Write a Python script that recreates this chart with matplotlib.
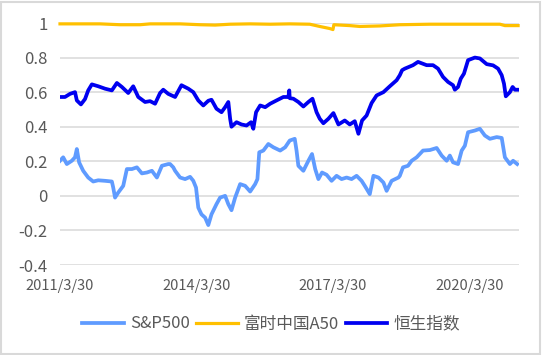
import datetime as dt
import matplotlib
matplotlib.use("Agg")
import matplotlib.pyplot as plt
from matplotlib.patches import Rectangle

plt.rcParams['font.family'] = ['Noto Sans CJK SC', 'DejaVu Sans']

# 数据（按图读取，时间为小数年份）
spx_t = [2011.24, 2011.31, 2011.39, 2011.50, 2011.57, 2011.61, 2011.66, 2011.75, 2011.86, 2011.97,
         2012.08, 2012.23, 2012.38, 2012.41, 2012.45, 2012.52, 2012.63, 2012.71, 2012.82, 2012.93,
         2013.04, 2013.15, 2013.26, 2013.37, 2013.48, 2013.62, 2013.66, 2013.73, 2013.77, 2013.88,
         2013.99, 2014.10, 2014.17, 2014.23, 2014.28, 2014.35, 2014.43, 2014.50, 2014.57, 2014.68,
         2014.76, 2014.87, 2014.94, 2015.01, 2015.09, 2015.20, 2015.31, 2015.42, 2015.53, 2015.58,
         2015.62, 2015.71, 2015.82, 2015.93, 2016.08, 2016.19, 2016.29, 2016.40, 2016.44, 2016.48,
         2016.59, 2016.70, 2016.78, 2016.85, 2016.92, 2017.00, 2017.10, 2017.21, 2017.32, 2017.43,
         2017.54, 2017.65, 2017.76, 2017.87, 2017.94, 2018.05, 2018.13, 2018.24, 2018.35, 2018.42,
         2018.53, 2018.68, 2018.71, 2018.78, 2018.89, 2018.97, 2019.08, 2019.22, 2019.37, 2019.52,
         2019.63, 2019.74, 2019.81, 2019.88, 2019.99, 2020.07, 2020.14, 2020.21, 2020.36, 2020.47,
         2020.58, 2020.69, 2020.84, 2020.95, 2021.02, 2021.13, 2021.20, 2021.29]
spx = [0.203, 0.223, 0.184, 0.203, 0.223, 0.271, 0.194, 0.145, 0.106, 0.083,
       0.090, 0.087, 0.083, 0.048, -0.010, 0.019, 0.058, 0.155, 0.155, 0.165,
       0.130, 0.135, 0.145, 0.106, 0.174, 0.184, 0.184, 0.165, 0.145, 0.106,
       0.097, 0.110, 0.087, 0.048, -0.068, -0.107, -0.126, -0.169, -0.107, -0.048,
       -0.010, 0.000, -0.048, -0.083, -0.010, 0.068, 0.058, 0.025, 0.068, 0.097,
       0.252, 0.262, 0.300, 0.281, 0.262, 0.281, 0.320, 0.330, 0.262, 0.174,
       0.145, 0.203, 0.242, 0.155, 0.097, 0.135, 0.122, 0.087, 0.116, 0.097,
       0.106, 0.097, 0.116, 0.087, 0.058, 0.010, 0.116, 0.106, 0.077, 0.029,
       0.087, 0.106, 0.116, 0.165, 0.174, 0.203, 0.223, 0.262, 0.265, 0.277,
       0.233, 0.203, 0.233, 0.194, 0.184, 0.262, 0.290, 0.368, 0.378, 0.388,
       0.349, 0.330, 0.340, 0.335, 0.223, 0.184, 0.203, 0.184]

a50_t = [2011.24, 2012.12, 2012.56, 2013.00, 2013.22, 2013.88, 2014.32, 2014.65, 2014.98, 2015.42,
         2015.86, 2016.29, 2016.73, 2016.95, 2017.17, 2017.24, 2017.26, 2017.61, 2017.83, 2018.27,
         2018.71, 2019.37, 2020.91, 2021.02, 2021.31]
a50 = [0.995, 0.995, 0.990, 0.990, 0.995, 0.995, 0.990, 0.988, 0.993, 0.995,
       0.993, 0.995, 0.993, 0.980, 0.968, 0.962, 0.990, 0.985, 0.980, 0.983,
       0.990, 0.993, 0.993, 0.985, 0.985]

hsi_t = [2011.24, 2011.35, 2011.46, 2011.57, 2011.61, 2011.70, 2011.79, 2011.86, 2011.94, 2012.08,
         2012.23, 2012.38, 2012.49, 2012.60, 2012.74, 2012.85, 2012.96, 2013.11, 2013.22, 2013.33,
         2013.44, 2013.51, 2013.62, 2013.77, 2013.91, 2014.06, 2014.17, 2014.28, 2014.39, 2014.50,
         2014.57, 2014.68, 2014.79, 2014.87, 2014.94, 2014.98, 2015.01, 2015.12, 2015.23, 2015.34,
         2015.44, 2015.49, 2015.55, 2015.64, 2015.75, 2015.86, 2016.00, 2016.15, 2016.26, 2016.28,
         2016.29, 2016.37, 2016.48, 2016.59, 2016.70, 2016.79, 2016.88, 2016.95, 2017.03, 2017.14,
         2017.25, 2017.36, 2017.50, 2017.61, 2017.72, 2017.80, 2017.88, 2017.98, 2018.09, 2018.20,
         2018.35, 2018.49, 2018.64, 2018.71, 2018.76, 2018.82, 2019.00, 2019.11, 2019.30, 2019.44,
         2019.55, 2019.66, 2019.77, 2019.88, 2019.92, 2019.99, 2020.05, 2020.12, 2020.21, 2020.36,
         2020.47, 2020.62, 2020.76, 2020.87, 2020.95, 2021.00, 2021.04, 2021.13, 2021.19, 2021.24,
         2021.29]
hsi = [0.572, 0.572, 0.590, 0.600, 0.552, 0.529, 0.560, 0.610, 0.645, 0.634,
       0.620, 0.610, 0.653, 0.630, 0.595, 0.634, 0.572, 0.543, 0.548, 0.533,
       0.595, 0.614, 0.590, 0.572, 0.640, 0.620, 0.600, 0.552, 0.523, 0.550,
       0.556, 0.504, 0.484, 0.513, 0.543, 0.446, 0.400, 0.426, 0.413, 0.407,
       0.426, 0.388, 0.484, 0.523, 0.513, 0.533, 0.552, 0.572, 0.572, 0.610,
       0.565, 0.562, 0.543, 0.517, 0.543, 0.562, 0.484, 0.446, 0.420, 0.446,
       0.479, 0.413, 0.436, 0.413, 0.432, 0.359, 0.436, 0.465, 0.537, 0.581,
       0.600, 0.634, 0.669, 0.698, 0.727, 0.736, 0.756, 0.775, 0.756, 0.756,
       0.736, 0.688, 0.659, 0.640, 0.614, 0.630, 0.678, 0.707, 0.785, 0.800,
       0.795, 0.762, 0.755, 0.736, 0.698, 0.649, 0.576, 0.600, 0.630, 0.614,
       0.614]

x_labels = ["2011/3/30", "2014/3/30", "2017/3/30", "2020/3/30"]
y_ticks = [-0.4, -0.2, 0, 0.2, 0.4, 0.6, 0.8, 1]


def to_year(s):
    d = dt.datetime.strptime(s, "%Y/%m/%d")
    return d.year + (d.timetuple().tm_yday - 1) / 365.0


fig = plt.figure(figsize=(5.42, 3.55), dpi=100)
ax = fig.add_axes([60 / 542, 1 - 265 / 355, 459 / 542, 242 / 355])

grey_txt = "#595959"
ax.plot(spx_t, spx, color="#5F9BFF", lw=2.7, label="S&P500", solid_joinstyle="round")
ax.plot(a50_t, a50, color="#FFC000", lw=2.3, label="富时中国A50", clip_on=False)
ax.plot(hsi_t, hsi, color="#0000F0", lw=2.7, label="恒生指数", solid_joinstyle="round")

ax.set_xlim(2011.24, 2021.33)
ax.set_ylim(-0.4, 1.0)
ax.set_yticks(y_ticks)
ax.set_yticklabels([f"{v:g}" for v in y_ticks], fontsize=12, color=grey_txt)
ax.set_xticks([to_year(s) for s in x_labels])
ax.set_xticklabels(x_labels, fontsize=10.5, color=grey_txt)
ax.tick_params(axis="both", length=0)
ax.tick_params(axis="y", pad=9)
ax.tick_params(axis="x", pad=10)
ax.grid(axis="y", color="#D9D9D9", lw=1.1)
ax.set_axisbelow(True)
for sp in ax.spines.values():
    sp.set_visible(False)

leg = fig.legend(loc="center", bbox_to_anchor=(0.5, 1 - 324 / 355), ncol=3, frameon=False,
                 fontsize=12, handlelength=2.5, handletextpad=0.35, columnspacing=0.4,
                 borderaxespad=0)
for t in leg.get_texts():
    t.set_color(grey_txt)

fig.patches.append(Rectangle((0.002, 0.003), 0.994, 0.992, transform=fig.transFigure,
                             fill=False, edgecolor="#D9D9D9", lw=1.5))

fig.savefig("out.png", dpi=100)
